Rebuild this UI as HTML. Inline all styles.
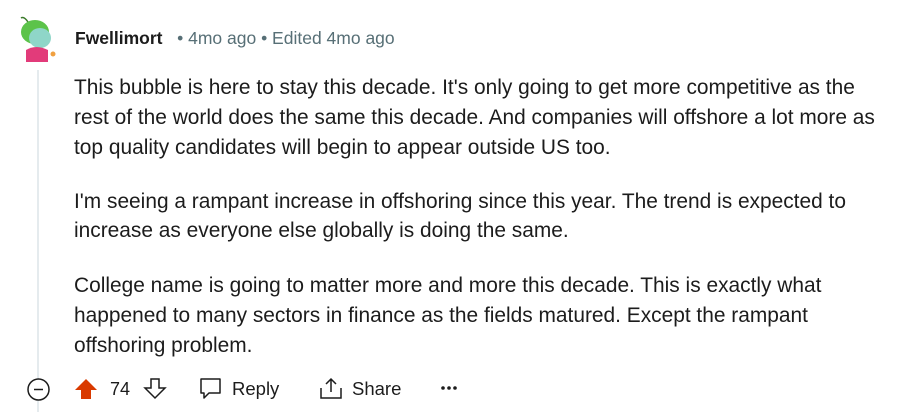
<!DOCTYPE html>
<html><head><meta charset="utf-8"><style>
body{margin:0;width:907px;height:412px;background:#fff;position:relative;overflow:hidden;font-family:"Liberation Sans",sans-serif;color:#1a1a1b}
.abs{position:absolute}
.line{position:absolute;left:74px;font-size:20.9px;line-height:24px;white-space:nowrap;color:#1c1c1c}
.meta{color:#576f76;font-size:17.5px}
</style></head><body>
<div class="abs" style="left:37px;top:70px;width:2px;height:342px;background:#e5ebee"></div>
<svg class="abs" style="left:18px;top:14px" width="40" height="50" viewBox="0 0 40 50">
<path d="M10 8 Q6 2 3 4" stroke="#3a7a2a" stroke-width="1.5" fill="none"/>
<ellipse cx="17" cy="18" rx="14" ry="12" fill="#5cc34a"/>
<ellipse cx="22" cy="24" rx="11" ry="10" fill="#8fd6c8"/>
<path d="M8 36 Q18 30 30 36 L30 48 L8 48 Z" fill="#e23b7a"/>
<circle cx="35" cy="40" r="2.5" fill="#f0a040"/>
</svg>
<div class="abs" style="left:75px;top:28px;font-size:17.5px;white-space:nowrap">
<span style="font-weight:bold;color:#1c1c1c">Fwellimort</span>
<span class="meta">&nbsp; • 4mo ago • Edited 4mo ago</span>
</div>
<div>
<div class="line" style="top:76px">This bubble is here to stay this decade. It's only going to get more competitive as the</div>
<div class="line" style="top:106px">rest of the world does the same this decade. And companies will offshore a lot more as</div>
<div class="line" style="top:136px">top quality candidates will begin to appear outside US too.</div>
<div class="line" style="top:190px">I'm seeing a rampant increase in offshoring since this year. The trend is expected to</div>
<div class="line" style="top:219px">increase as everyone else globally is doing the same.</div>
<div class="line" style="top:274px">College name is going to matter more and more this decade. This is exactly what</div>
<div class="line" style="top:304px">happened to many sectors in finance as the fields matured. Except the rampant</div>
<div class="line" style="top:334px">offshoring problem.</div>
</div>
<svg class="abs" style="left:27px;top:378px" width="24" height="24"><circle cx="11.5" cy="11.5" r="10.5" fill="#fff" stroke="#1c1c1c" stroke-width="1.5"/><line x1="7" y1="11.5" x2="16" y2="11.5" stroke="#1c1c1c" stroke-width="1.5"/></svg>
<svg class="abs" style="left:74px;top:377px" width="24" height="24"><path d="M12 2 L23 13 L17 13 L17 22 L7 22 L7 13 L1 13 Z" fill="#d93a00"/></svg>
<div class="abs" style="left:110px;top:379px;font-size:18px;color:#1c1c1c">74</div>
<svg class="abs" style="left:143px;top:377px" width="24" height="24"><path d="M8 2 L16 2 L16 11 L22 11 L12 21 L2 11 L8 11 Z" fill="none" stroke="#1c1c1c" stroke-width="1.5"/></svg>
<svg class="abs" style="left:199px;top:377px" width="24" height="24"><path d="M2 2 H21 V16 H10 L5 21 V16 H2 Z" fill="none" stroke="#1c1c1c" stroke-width="1.5" stroke-linejoin="round"/></svg>
<div class="abs" style="left:232px;top:378px;font-size:18.5px;color:#1c1c1c">Reply</div>
<svg class="abs" style="left:319px;top:376px" width="24" height="24"><path d="M2 12 V22 H22 V12" fill="none" stroke="#1c1c1c" stroke-width="1.5"/><path d="M12 16 V3 M7 8 L12 3 L17 8" fill="none" stroke="#1c1c1c" stroke-width="1.5"/></svg>
<div class="abs" style="left:352px;top:378px;font-size:18.5px;color:#1c1c1c">Share</div>
<svg class="abs" style="left:440px;top:384px" width="18" height="8"><circle cx="3" cy="4" r="1.8" fill="#1c1c1c"/><circle cx="9" cy="4" r="1.8" fill="#1c1c1c"/><circle cx="15" cy="4" r="1.8" fill="#1c1c1c"/></svg>
</body></html>
